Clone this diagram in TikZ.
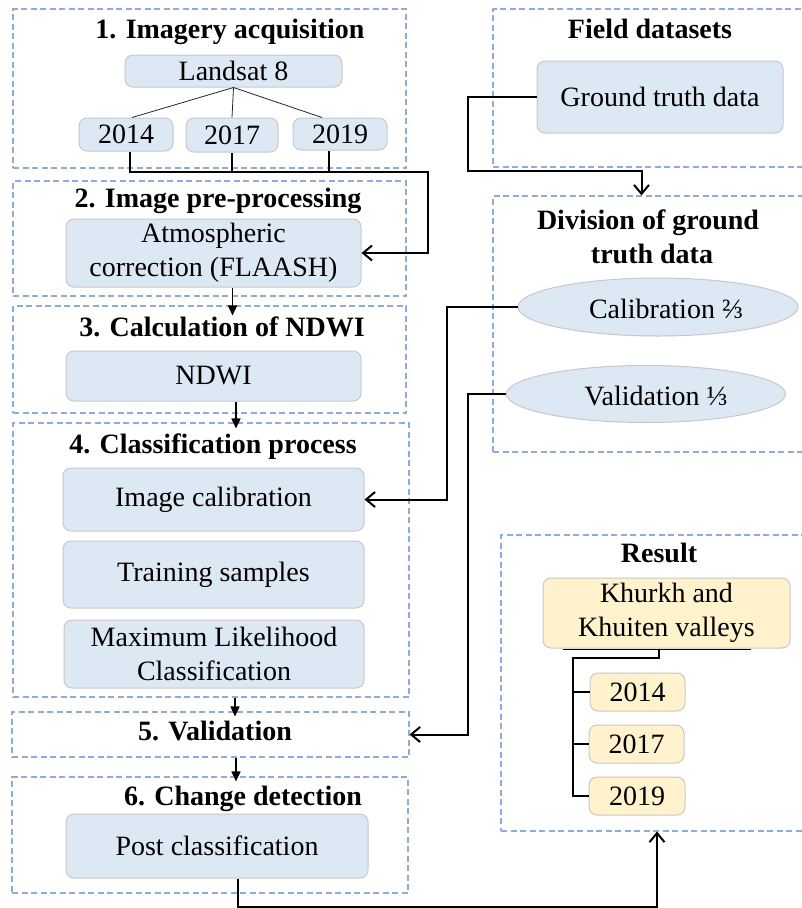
\documentclass[tikz,border=0pt]{standalone}
\usepackage{fontspec}
\setmainfont{Liberation Serif}
\usetikzlibrary{arrows.meta,calc,shapes.geometric}
\definecolor{boxblue}{HTML}{DDE8F5}
\definecolor{boxedge}{HTML}{C8C8C8}
\definecolor{secblue}{HTML}{8FAADC}
\definecolor{boxyellow}{HTML}{FFF2CC}

\begin{document}
\begin{tikzpicture}[x=1pt,y=-1pt,
  every node/.style={font=\fontsize{28}{34}\selectfont, inner sep=0pt},
  sec/.style={draw=secblue, line width=1.1pt, dash pattern=on 6pt off 3.5pt},
  title/.style={font=\fontsize{28}{34}\selectfont\bfseries, anchor=base},
  bbox/.style={draw=boxedge, fill=boxblue, line width=1pt, rounded corners=8pt, align=center},
  ybox/.style={bbox, fill=boxyellow},
  ebox/.style={ellipse, draw=boxedge, fill=boxblue, line width=1pt},
  conn/.style={line width=2pt},
  barb/.style={conn, -{Straight Barb[length=9pt,width=15pt,line width=2pt]}},
  flow/.style={line width=1.6pt, -{Triangle[length=10pt,width=9pt]}},
  twig/.style={line width=0.8pt, draw=black!85},
]
\useasboundingbox (0,0) rectangle (802,908);
\clip (0,0) rectangle (802,908);
\fill[white] (0,0) rectangle (802,908);

% ---- section frames, left column
\node[sec, minimum width=393pt, minimum height=159pt] (s1) at (209.5,88.5) {};
\node[sec, minimum width=393pt, minimum height=115pt] (s2) at (209.5,238.5) {};
\node[sec, minimum width=393pt, minimum height=107pt] (s3) at (209.5,359.5) {};
\node[sec, minimum width=396pt, minimum height=274pt] (s4) at (211,560) {};
\node[sec, minimum width=397pt, minimum height=45pt]  (s5) at (210.5,734.5) {};
\node[sec, minimum width=396pt, minimum height=116pt] (s6) at (210,835) {};

% ---- section frames, right column
\node[sec, minimum width=317pt, minimum height=158pt] (fd) at (651.5,88) {};
\node[sec, minimum width=317pt, minimum height=256pt] (dv) at (651.5,324) {};
\node[sec, minimum width=309pt, minimum height=296pt] (rs) at (655.5,683) {};

% ---- titles
\node[title] (t1) at (230,38)  {1. Imagery acquisition};
\node[title] (t2) at (218,207) {2. Image pre-processing};
\node[title] (t3) at (222,336) {3. Calculation of NDWI};
\node[title] (t4) at (213,453) {4. Classification process};
\node[title] (t5) at (215,740) {5. Validation};
\node[title] (t6) at (243,805) {6. Change detection};
\node[title] (tf) at (650,38)  {Field datasets};
\node[title] (td1) at (648,229) {Division of ground};
\node[title] (td2) at (652,263) {truth data};
\node[title] (tr) at (659,562) {Result};

% ---- process boxes
\node[bbox, minimum width=217pt, minimum height=32pt] (l8) at (233.5,71) {Landsat 8};
\node[bbox, minimum width=94pt, minimum height=33pt] (y14) at (126,134.5) {2014};
\node[bbox, minimum width=92pt, minimum height=34pt] (y17) at (232,135) {2017};
\node[bbox, minimum width=94pt, minimum height=32pt] (y19) at (340,134) {2019};
\node[bbox, minimum width=295pt, minimum height=68pt] (atm) at (213.5,253) {Atmospheric\\correction (FLAASH)};
\node[bbox, minimum width=295pt, minimum height=50pt] (ndwi) at (213.5,376) {NDWI};
\node[bbox, minimum width=301pt, minimum height=63pt] (ic) at (213.5,499.5) {Image calibration};
\node[bbox, minimum width=301pt, minimum height=67pt] (ts) at (213.5,574.5) {Training samples};
\node[bbox, minimum width=300pt, minimum height=68pt] (mlc) at (214,654) {Maximum Likelihood\\Classification};
\node[bbox, minimum width=302pt, minimum height=64pt] (pc) at (217,846) {Post classification};

\node[bbox, minimum width=246pt, minimum height=72pt] (gt) at (660,97) {Ground truth data};
\node[ebox, minimum width=280pt, minimum height=58pt] (cal) at (658,307) {};
\node (calt) at (666,309) {Calibration ⅔};
\node[ebox, minimum width=279pt, minimum height=57pt] (val) at (646,394) {};
\node (valt) at (656,396) {Validation ⅓};

\node[ybox, minimum width=247pt, minimum height=70pt] (kk) at (666.5,613) {Khurkh and\\Khuiten valleys};
\node[ybox, minimum width=95pt, minimum height=38pt] (r14) at (637.5,692) {2014};
\node[ybox, minimum width=95pt, minimum height=38pt] (r17) at (636.5,744) {2017};
\node[ybox, minimum width=96pt, minimum height=38pt] (r19) at (637,796) {2019};

% ---- Landsat scenes
\draw[twig] (l8.south) -- ($(y14.north)+(6,0)$);
\draw[twig] (l8.south) -- (y17.north);
\draw[twig] (l8.south) -- ($(y19.north)+(-18,0)$);

% ---- scenes to pre-processing
\coordinate (j1) at (428,172);
\draw[barb] ($(y14.south)+(4,0)$) |- (j1) |- (atm.east);
\draw[conn] (y17.south) -- (y17.south |- j1);
\draw[conn] ($(y19.south)+(-11,0)$) |- (j1);

% ---- main flow
\draw[flow] ($(atm.south)+(19,0)$)  -- ($(s3.north)+(23,10)$);
\draw[flow] ($(ndwi.south)+(22.5,0)$) -- ($(s4.north)+(25,6)$);
\draw[flow] ($(s4.south)+(24,0)$)   -- ($(s5.north)+(24.5,5)$);
\draw[flow] ($(s5.south)+(25.5,0)$) -- ($(s6.north)+(26,5)$);
\draw[barb] ($(pc.south)+(21,0)$) |- ($(rs.south)+(1.5,75)$) -- ($(rs.south)+(1.5,0)$);

% ---- ground truth branches
\coordinate (g1) at (468,171);
\draw[barb] (gt.west) -| (g1) -| ($(dv.north)+(-10,0)$);
\coordinate (c1) at (447,400);
\draw[barb] (cal.west) -| (c1) |- (ic.east);
\coordinate (v1) at (468,560);
\draw[barb] (val.west) -| (v1) |- (s5.east);

% ---- result tree
\draw[line width=1pt] ($(kk.south west)+(20,0.5)$) -- ($(kk.south east)+(-40,0.5)$);
\coordinate (k1) at (573,658);
\draw[conn] ($(kk.south)+(-7.5,0)$) |- (k1) |- (r19.west);
\draw[conn] (r14.west -| k1) -- (r14.west);
\draw[conn] (r17.west -| k1) -- (r17.west);
\end{tikzpicture}
\end{document}
